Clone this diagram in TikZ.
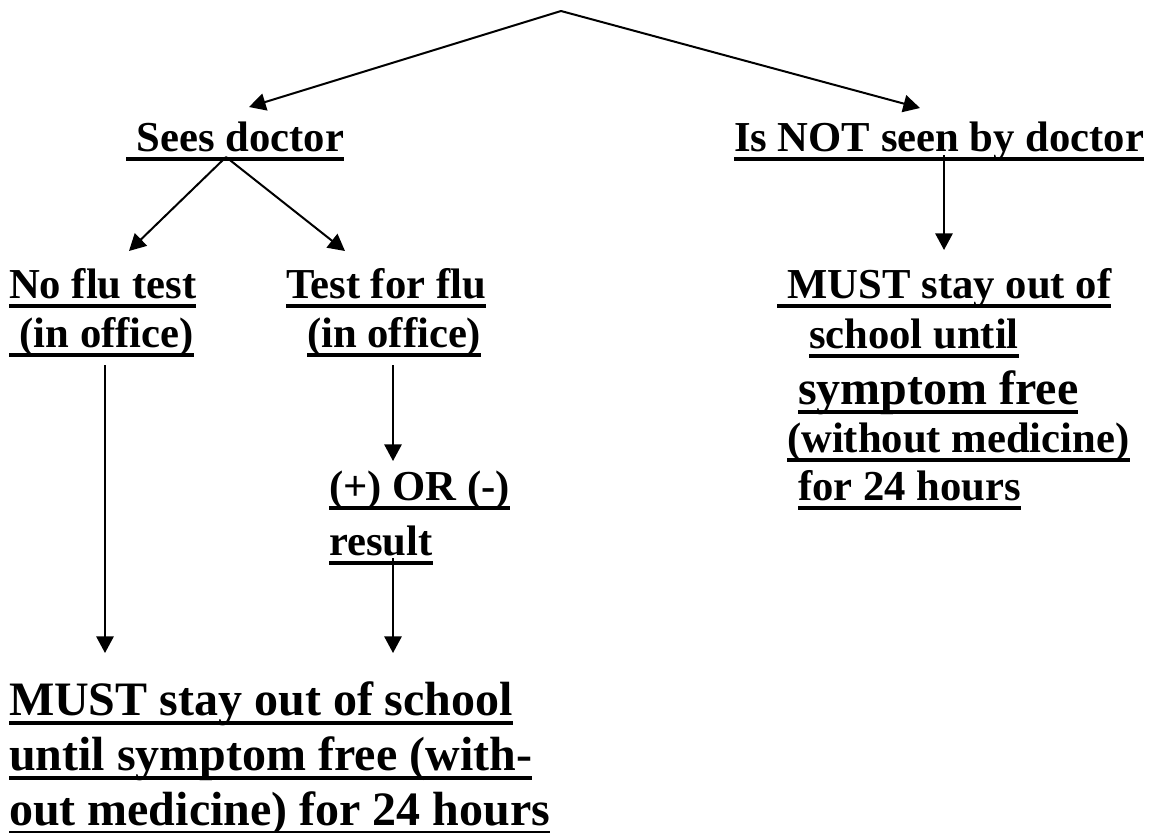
\documentclass[tikz,border=0pt]{standalone}
\usepackage{fontspec}
\setmainfont{Liberation Serif}
\usetikzlibrary{arrows.meta}
\newcommand{\ulnode}[5]{%
  \node[txt,#4,anchor=base west] (#1) at (#2,#3-8) {#5};
  \draw[ulbar] ([yshift=-6pt]#1.base west) -- ([yshift=-6pt]#1.base east);
}
\begin{document}
\begin{tikzpicture}[x=0.75pt,y=-0.75pt,
  txt/.style={inner sep=0pt,outer sep=0pt},
  small/.style={font=\bfseries\fontsize{32pt}{36pt}\selectfont},
  big/.style={font=\bfseries\fontsize{36pt}{40pt}\selectfont},
  ulbar/.style={line width=3pt},
  arr/.style={line width=1.5pt,-{Triangle[length=12.5pt,width=13pt]}}]
\useasboundingbox (0,0) rectangle (1151,832);
% top level
\ulnode{sees}{126}{159}{small}{\ Sees doctor}
\ulnode{notseen}{734}{159}{small}{Is NOT seen by doctor}
% left tree
\ulnode{noflua}{9}{306}{small}{No flu test}
\ulnode{noflub}{9}{355}{small}{\ (in office)}
\ulnode{testa}{286}{306}{small}{Test for flu}
\ulnode{testb}{307}{355}{small}{(in office)}
\ulnode{resa}{329}{508}{small}{(+) OR (-)}
\ulnode{resb}{329}{563}{small}{result\ }
\ulnode{musta}{9}{723}{big}{MUST stay out of school}
\ulnode{mustb}{9}{778}{big}{until symptom free (with-}
\ulnode{mustc}{9}{833}{big}{out medicine) for 24 hours}
% right block
\ulnode{ra}{777}{306}{small}{\ MUST stay out of}
\ulnode{rb}{809}{356}{small}{school until}
\ulnode{rc}{798}{412}{big}{symptom free}
\ulnode{rd}{787}{460}{small}{(without medicine)}
\ulnode{re}{798}{508}{small}{for 24 hours}
% connector points
\coordinate (apex) at (561,11);
\coordinate (seestip) at (249,107);
\coordinate (notseentip) at (920,108);
\coordinate (seesO) at (226,157);
\coordinate (nofluTip) at (129,251);
\coordinate (testTip) at (345,251);
\coordinate (notseenO) at (944,155);
\coordinate (raTip) at (944,250);
\coordinate (nofluO) at (105,365);
\coordinate (mustTipL) at (105,653);
\coordinate (testO) at (393,365);
\coordinate (resTip) at (393,461);
\coordinate (resO) at (393,558);
\coordinate (mustTipR) at (393,653);
% connectors
\draw[arr] (apex) -- (seestip);
\draw[arr] (apex) -- (notseentip);
\draw[arr] (seesO) -- (nofluTip);
\draw[arr] (seesO) -- (testTip);
\draw[arr] (notseenO) -- (raTip);
\draw[arr] (nofluO) -- (mustTipL);
\draw[arr] (testO) -- (resTip);
\draw[arr] (resO) -- (mustTipR);
\end{tikzpicture}
\end{document}
